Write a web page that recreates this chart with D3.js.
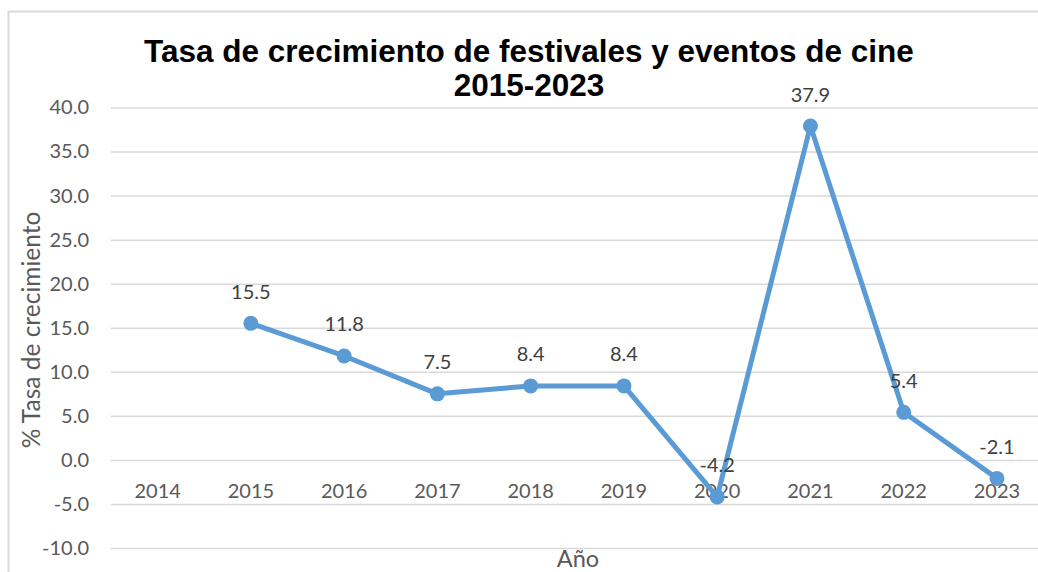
<!DOCTYPE html>
<html><head><meta charset="utf-8">
<script src="https://cdn.jsdelivr.net/npm/d3@7"></script>
<style>body{margin:0;background:#fff;overflow:hidden}</style>
</head><body>
<svg id="c" width="1038" height="572"></svg>
<script>
const categories = ["2014","2015","2016","2017","2018","2019","2020","2021","2022","2023"];
const years = ["2015","2016","2017","2018","2019","2020","2021","2022","2023"];
const values = [15.5, 11.8, 7.5, 8.4, 8.4, -4.2, 37.9, 5.4, -2.1];
const yTicks = [-10, -5, 0, 5, 10, 15, 20, 25, 30, 35, 40];
const titleLines = ["Tasa de crecimiento de festivales y eventos de cine", "2015-2023"];
const yTitle = "% Tasa de crecimiento";
const xTitle = "Año";

(function () {
const svg = d3.select("#c");
const font = "Lato, 'Open Sans', sans-serif";
const pLeft = 111, pRight = 1043.6, pTop = 107.5, pBottom = 548;

const x = d3.scaleBand().domain(categories).range([pLeft, pRight]);
const y = d3.scaleLinear().domain([-10, 40]).range([pBottom, pTop]);
const fmt = d => d.toFixed(1);

// outer border
svg.append("rect").attr("x", 8.5).attr("y", 11.5).attr("width", 1100).attr("height", 700)
  .attr("fill", "#fff").attr("stroke", "#d9d9d9").attr("stroke-width", 2);

// gridlines
const grid = svg.append("g").attr("transform", `translate(${pLeft},0)`)
  .call(d3.axisLeft(y).tickValues(yTicks).tickSize(-(pRight - pLeft)).tickFormat(""));
grid.select(".domain").remove();
grid.selectAll("line").attr("stroke", "#d9d9d9").attr("stroke-width", 1.5);

// y labels
const ya = svg.append("g").attr("transform", `translate(${pLeft},0)`)
  .call(d3.axisLeft(y).tickValues(yTicks).tickSize(0).tickPadding(22).tickFormat(fmt));
ya.select(".domain").remove();
ya.selectAll("text").attr("font-family", font).attr("font-size", 20).attr("fill", "#595959");

// x labels
const xa = svg.append("g").attr("transform", `translate(0,${y(0)})`)
  .call(d3.axisBottom(x).tickSize(0));
xa.select(".domain").remove();
xa.selectAll("text").attr("dy", null).attr("y", 38.5)
  .attr("font-family", font).attr("font-size", 20).attr("fill", "#595959");

// line
const cx = d => x(d) + x.bandwidth() / 2;
const pts = years.map((yr, i) => ({yr, v: values[i]}));
svg.append("path").datum(pts)
  .attr("d", d3.line().x(d => cx(d.yr)).y(d => y(d.v)))
  .attr("fill", "none").attr("stroke", "#5b9bd5").attr("stroke-width", 5)
  .attr("stroke-linejoin", "round").attr("stroke-linecap", "round");
svg.selectAll("circle.pt").data(pts).join("circle").attr("class", "pt")
  .attr("cx", d => cx(d.yr)).attr("cy", d => y(d.v)).attr("r", 7.5).attr("fill", "#5b9bd5");

// data labels
svg.selectAll("text.dl").data(pts).join("text").attr("class", "dl")
  .attr("x", d => cx(d.yr)).attr("y", d => y(d.v) - 24.5)
  .attr("text-anchor", "middle").attr("font-family", font).attr("font-size", 20)
  .attr("fill", "#404040").text(d => fmt(d.v));

// title
svg.append("text").attr("x", 529).attr("y", 62).attr("text-anchor", "middle")
  .attr("font-family", "'Liberation Sans', Arial, sans-serif").attr("font-weight", "bold")
  .attr("font-size", 31.5).attr("fill", "#000")
  .selectAll("tspan").data(titleLines).join("tspan")
  .attr("x", 529).attr("dy", (d, i) => i === 0 ? 0 : 34).text(d => d);

// axis titles
svg.append("text").attr("transform", "translate(40,330) rotate(-90)").attr("text-anchor", "middle")
  .attr("font-family", font).attr("font-size", 24.5).attr("fill", "#595959").text(yTitle);
svg.append("text").attr("x", 578).attr("y", 567).attr("text-anchor", "middle")
  .attr("font-family", font).attr("font-size", 23.5).attr("fill", "#595959").text(xTitle);
})();
</script>
</body></html>
